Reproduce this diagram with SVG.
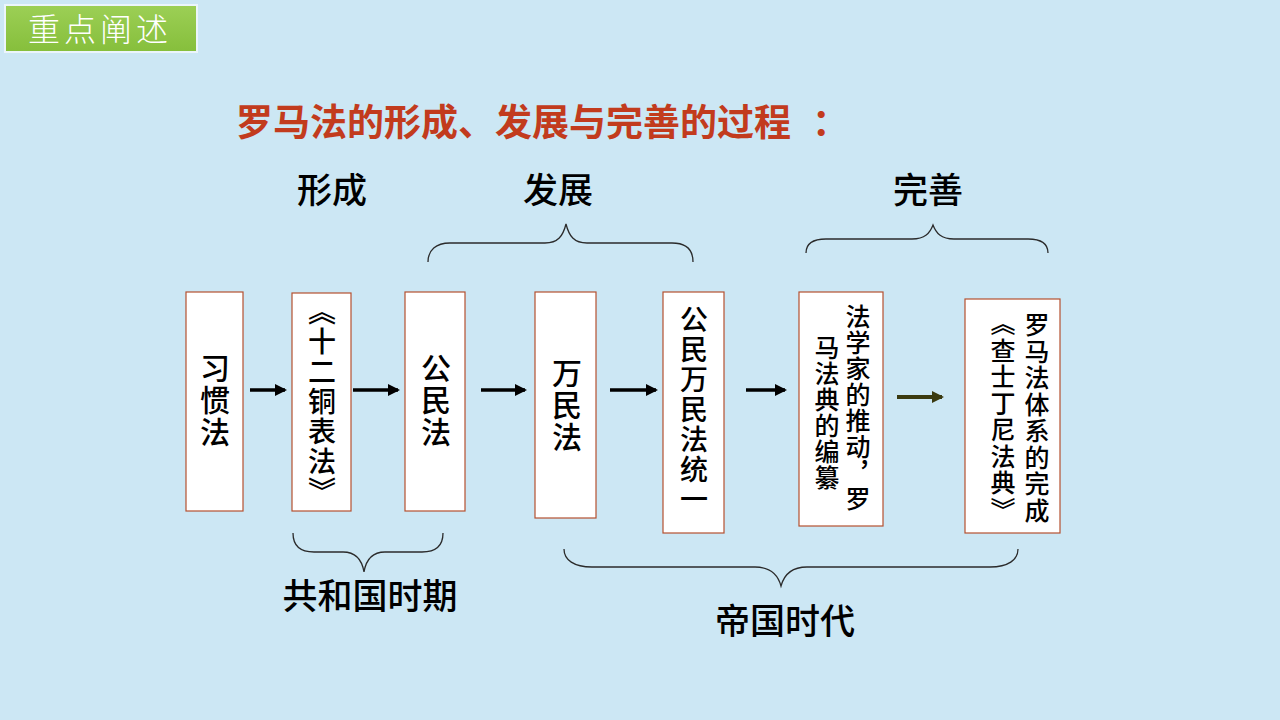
<svg xmlns="http://www.w3.org/2000/svg" width="1280" height="720" viewBox="0 0 1280 720">
<defs>
<style>
.box{fill:#ffffff;stroke:#b4502f;stroke-width:1.2}
.vt{font-family:"Noto Sans CJK SC","Noto Sans",sans-serif;font-weight:500;fill:#000;writing-mode:vertical-rl;text-anchor:middle}
.lbl{font-family:"Noto Sans CJK SC","Noto Sans",sans-serif;font-weight:500;font-size:35px;fill:#000;text-anchor:middle}
.brace{fill:none;stroke:#2b2b2b;stroke-width:1.3}
.arr{stroke:#000;stroke-width:3.5;fill:none}
</style>
<marker id="ah" markerWidth="12" markerHeight="12" refX="10" refY="6" orient="auto" markerUnits="userSpaceOnUse">
<path d="M0,0 L12,6 L0,12 Z" fill="#000"/>
</marker>
<marker id="ah2" markerWidth="12" markerHeight="12" refX="10" refY="6" orient="auto" markerUnits="userSpaceOnUse">
<path d="M0,0 L12,6 L0,12 Z" fill="#3a3a10"/>
</marker>
<linearGradient id="g" x1="0" y1="0" x2="0" y2="1">
<stop offset="0" stop-color="#9ccf55"/>
<stop offset="1" stop-color="#86bf3c"/>
</linearGradient>
</defs>
<rect x="0" y="0" width="1280" height="720" fill="#cce7f4"/>

<g id="tag">
<rect x="4" y="4" width="194" height="49" fill="#ffffff" opacity="0.6"/>
<rect x="6" y="6" width="190" height="45" fill="url(#g)"/>
<text x="100" y="41" font-family="'Noto Sans CJK SC',sans-serif" font-weight="300" font-size="32" letter-spacing="4" fill="#ffffff" text-anchor="middle">重点阐述</text>
</g>

<g id="heading">
<text x="236" y="136" font-family="'Noto Sans CJK SC',sans-serif" font-weight="700" font-size="37" fill="#c23b1d">罗马法的形成、发展与完善的过程<tspan x="812">：</tspan></text>
</g>

<g id="labels">
<text class="lbl" x="332" y="203">形成</text>
<text class="lbl" x="558" y="203">发展</text>
<text class="lbl" x="928" y="203">完善</text>
<text class="lbl" x="370" y="609">共和国时期</text>
<text class="lbl" x="785" y="634">帝国时代</text>
</g>

<g id="braces">
<path class="brace" d="M428,262 C428,250 436,243 450,243 L545,243 C558,243 563,236 566,224 C569,236 574,243 587,243 L672,243 C686,243 693,250 693,262"/>
<path class="brace" d="M806,253 C806,244 813,239 826,239 L912,239 C925,239 930,233 933,225 C936,233 941,239 954,239 L1028,239 C1041,239 1048,244 1048,253"/>
<path class="brace" d="M293,533 C293,545 300,552 314,552 L343,552 C356,552 362,560 364,572 C366,560 372,552 385,552 L422,552 C436,552 443,545 443,533"/>
<path class="brace" d="M564,549 C564,560 574,567 592,567 L755,567 C770,567 778,575 781,586 C784,575 792,567 807,567 L990,567 C1008,567 1018,560 1018,549"/>
</g>

<g id="n1">
<rect class="box" x="186" y="292" width="57" height="219"/>
<text class="vt" x="215" y="401" font-size="30" letter-spacing="2">习惯法</text>
</g>
<g id="n2">
<rect class="box" x="292" y="293" width="59" height="218"/>
<text class="vt" x="322" y="402" font-size="28" letter-spacing="2">《十二铜表法》</text>
</g>
<g id="n3">
<rect class="box" x="405" y="292" width="60" height="219"/>
<text class="vt" x="436" y="401" font-size="30" letter-spacing="2">公民法</text>
</g>
<g id="n4">
<rect class="box" x="535" y="292" width="61" height="226"/>
<text class="vt" x="567" y="406" font-size="30" letter-spacing="2">万民法</text>
</g>
<g id="n5">
<rect class="box" x="663" y="292" width="61" height="241"/>
<text class="vt" x="694" y="410" font-size="28" letter-spacing="2">公民万民法统一</text>
</g>
<g id="n6">
<rect class="box" x="799" y="292" width="84" height="234"/>
<text class="vt" x="858" y="408" font-size="25" letter-spacing="1">法学家的推动，罗</text>
<text class="vt" x="827" y="413" font-size="25" letter-spacing="1">马法典的编纂</text>
</g>
<g id="n7">
<rect class="box" x="965" y="299" width="95" height="234"/>
<text class="vt" x="1037" y="418" font-size="25" letter-spacing="1.5">罗马法体系的完成</text>
<text class="vt" x="1003" y="417" font-size="25" letter-spacing="1.5">《查士丁尼法典》</text>
</g>

<g id="connectors">
<line class="arr" x1="250" y1="390" x2="285" y2="390" marker-end="url(#ah)"/>
<line class="arr" x1="353" y1="390" x2="398" y2="390" marker-end="url(#ah)"/>
<line class="arr" x1="481" y1="390" x2="525" y2="390" marker-end="url(#ah)"/>
<line class="arr" x1="610" y1="390" x2="656" y2="390" marker-end="url(#ah)"/>
<line class="arr" x1="746" y1="390" x2="785" y2="390" marker-end="url(#ah)"/>
<line x1="897" y1="397" x2="942" y2="397" stroke="#3a3a10" stroke-width="4" marker-end="url(#ah2)"/>
</g>
</svg>
